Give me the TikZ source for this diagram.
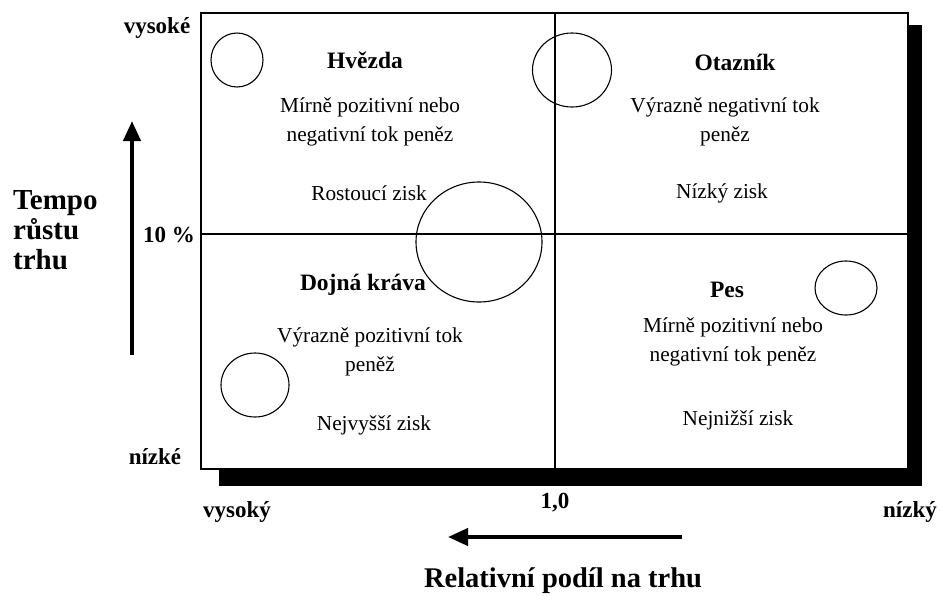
\documentclass[tikz,border=0pt]{standalone}
\usepackage{fontspec}
\setmainfont{Liberation Serif}
\usetikzlibrary{arrows.meta}
\begin{document}
\begin{tikzpicture}[x=1pt,y=-1pt,
  body/.style={font=\fontsize{21.3}{29}\selectfont, align=center, inner sep=0pt},
  head/.style={font=\bfseries\fontsize{23.5}{27}\selectfont, inner sep=0pt},
  axlab/.style={font=\bfseries\fontsize{23}{26}\selectfont, inner sep=0pt},
  title/.style={font=\bfseries\fontsize{28.5}{30}\selectfont, inner sep=0pt},
  bubble/.style={draw, line width=1.1pt},
  bigarrow/.style={line width=4pt, -{Triangle[length=20pt,width=17pt]}}
]
\useasboundingbox (0,0) rectangle (940,595);
% shadow and frame
\fill[black] (219,25) rectangle (922,486);
\draw[fill=white, line width=2.2pt] (201,13) rectangle (908,469);
\coordinate (vt) at (555,13);
\coordinate (vb) at (555,469);
\coordinate (hl) at (201,234);
\coordinate (hr) at (908,234);
\draw[line width=1.8pt] (vt) -- (vb);
\draw[line width=1.8pt] (hl) -- (hr);
% bubbles
\draw[bubble] (237,60) ellipse [x radius=26, y radius=27];
\draw[bubble] (572,70) ellipse [x radius=39.5, y radius=37];
\draw[bubble] (479,242) ellipse [x radius=63, y radius=60];
\draw[bubble] (255,385) ellipse [x radius=34, y radius=32];
\draw[bubble] (846,288) ellipse [x radius=31, y radius=27];
% star
\node[head] (hv) at (365,60) {Hvězda};
\node[body] (hvc) at (370,122) {Mírně pozitivní nebo\\negativní tok peněz};
\node[body] (hvz) at (369,193) {Rostoucí zisk};
% question mark
\node[head] (ot) at (735,62) {Otazník};
\node[body] (otc) at (725,122) {Výrazně negativní tok\\peněz};
\node[body] (otz) at (722,193) {Nízký zisk};
% cash cow
\node[head] (dk) at (363,285) {Dojná kráva};
\node[body] (dkc) at (370,352) {Výrazně pozitivní tok\\peněž};
\node[body] (dkz) at (374,425) {Nejvyšší zisk};
% dog
\node[head] (ps) at (727,290) {Pes};
\node[body] (psc) at (733,342) {Mírně pozitivní nebo\\negativní tok peněz};
\node[body] (psz) at (738,420) {Nejnižší zisk};
% axis labels
\node[axlab] (vys) at (157,28) {vysoké};
\node[axlab] (ten) at (169,235) {10 \%};
\node[axlab] (niz) at (155,457) {nízké};
\node[axlab] (vyk) at (237,512) {vysoký};
\node[axlab] (jed) at (555,503) {1,0};
\node[axlab] (nik) at (910,512) {nízký};
\node[align=left, anchor=west, inner sep=0pt, font=\bfseries\fontsize{29}{30}\selectfont] (tmp) at (13,230) {Tempo\\růstu\\trhu};
\node[title] (rel) at (563,581) {Relativní podíl na trhu};
% arrows
\coordinate (a1) at (132,355);
\coordinate (a2) at (132,121);
\coordinate (b1) at (682,537);
\coordinate (b2) at (448,537);
\draw[bigarrow] (a1) -- (a2);
\draw[bigarrow] (b1) -- (b2);
\end{tikzpicture}
\end{document}
